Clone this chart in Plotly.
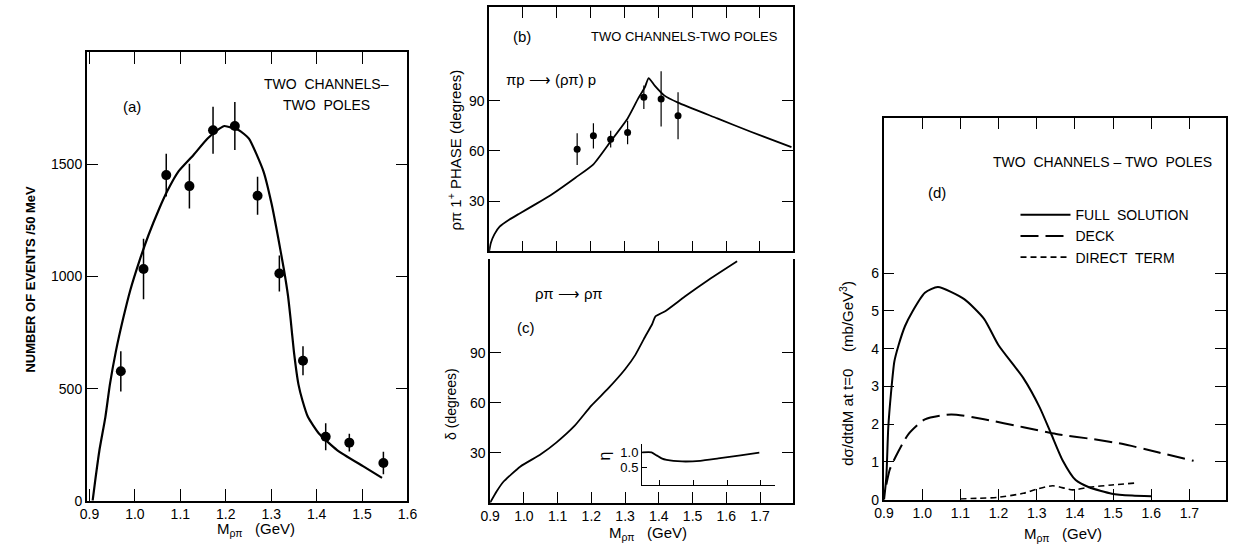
import plotly.graph_objects as go

W, H = 1239, 558

# ---------------- Panel (a): events per 50 MeV ----------------
a_pts_x = [0.969, 1.019, 1.069, 1.12, 1.172, 1.22, 1.27, 1.318, 1.37, 1.42, 1.472, 1.547]
a_pts_y = [577, 1033, 1452, 1403, 1652, 1671, 1360, 1013, 624, 285, 259, 168]
a_pts_err = [90, 135, 95, 100, 105, 107, 85, 80, 65, 60, 40, 50]

a_curve_x = [0.907, 0.912, 0.922, 0.935, 0.945, 0.958, 0.974, 0.99, 1.01, 1.03, 1.053, 1.071,
             1.096, 1.129, 1.16, 1.186, 1.197, 1.229, 1.251, 1.283, 1.301, 1.315, 1.328, 1.337,
             1.3427, 1.35, 1.36, 1.369, 1.381, 1.405, 1.445, 1.502, 1.544]
a_curve_y = [0, 80, 226, 373, 519, 665, 811, 940, 1070, 1185, 1300, 1380,
             1469, 1542, 1615, 1659, 1671, 1652, 1615, 1469, 1323, 1177, 1031, 914,
             811, 665, 519, 446, 373, 300, 226, 154, 102]

# ---------------- Panel (b): rho-pi 1+ phase ----------------
b_pts_x = [1.16, 1.208, 1.259, 1.309, 1.357, 1.408, 1.458]
b_pts_y = [61, 69, 67, 71, 92, 91, 81]
b_pts_err = [9.5, 7.5, 5, 7, 7, 16.5, 14]

b_curve_x = [0.9, 0.905, 0.915, 0.931, 0.96, 0.989, 1.04, 1.087, 1.155, 1.208, 1.259, 1.309,
             1.34, 1.36, 1.371, 1.389, 1.418, 1.458, 1.574, 1.671, 1.793]
b_curve_y = [0, 5, 10, 14.7, 19, 22.5, 28.5, 34.3, 44, 52, 65.7, 79.4,
             91.2, 98, 103.5, 99, 93, 88.8, 79.4, 71.6, 62.2]

# ---------------- Panel (c): rho-pi -> rho-pi phase shift ----------------
c_curve_x = [0.9, 0.92, 0.94, 0.989, 1.05, 1.096, 1.15, 1.2, 1.25, 1.3, 1.33, 1.36,
             1.38, 1.39, 1.42, 1.477, 1.55, 1.632]
c_curve_y = [0, 7, 12.7, 21.6, 29, 36, 46, 58.2, 68.5, 80, 88.5, 99.8,
             107, 111.7, 115, 123.6, 134, 144.8]

eta_x = [1.347, 1.375, 1.39, 1.405, 1.42, 1.466, 1.52, 1.574, 1.64, 1.696]
eta_y = [1.0, 1.0, 0.9, 0.8, 0.75, 0.7, 0.72, 0.8, 0.9, 0.99]

# ---------------- Panel (d): cross sections ----------------
d_full_x = [0.9, 0.906, 0.911, 0.918, 0.927, 0.938, 0.955, 0.973, 1.007, 1.041, 1.11, 1.162,
            1.2, 1.265, 1.308, 1.338, 1.368, 1.402, 1.437, 1.497, 1.55, 1.6]
d_full_y = [0, 0.6, 1.9, 2.8, 3.66, 4.09, 4.6, 4.96, 5.48, 5.63, 5.31, 4.79,
            4.09, 3.22, 2.44, 1.74, 1.04, 0.52, 0.33, 0.16, 0.11, 0.09]

d_deck_x = [0.906, 0.915, 0.93, 0.964, 1.007, 1.076, 1.162, 1.265, 1.351, 1.45, 1.523, 1.62, 1.711]
d_deck_y = [0.4, 0.8, 1.13, 1.74, 2.13, 2.26, 2.13, 1.92, 1.74, 1.6, 1.48, 1.25, 1.03]

d_direct_x = [1.1, 1.15, 1.196, 1.265, 1.3, 1.342, 1.394, 1.437, 1.497, 1.557]
d_direct_y = [0.02, 0.04, 0.06, 0.17, 0.28, 0.37, 0.26, 0.33, 0.39, 0.44]

mass_ticks = [0.9, 1.0, 1.1, 1.2, 1.3, 1.4, 1.5, 1.6, 1.7]


def px(x):
    return x / W


def py(y):
    return 1 - y / H


FONT = "Liberation Sans"
BLK = "black"

fig = go.Figure()

# (a)
fig.add_trace(go.Scatter(x=a_curve_x, y=a_curve_y, mode="lines",
                         line=dict(color=BLK, width=2.2, shape="spline", smoothing=0.5),
                         xaxis="x", yaxis="y", showlegend=False))
fig.add_trace(go.Scatter(x=a_pts_x, y=a_pts_y, mode="markers",
                         marker=dict(color=BLK, size=10),
                         error_y=dict(type="data", array=a_pts_err, color=BLK, thickness=1.5, width=0),
                         xaxis="x", yaxis="y", showlegend=False))
# (b)
fig.add_trace(go.Scatter(x=b_curve_x, y=b_curve_y, mode="lines",
                         line=dict(color=BLK, width=1.8, shape="spline", smoothing=0.5),
                         xaxis="x2", yaxis="y2", showlegend=False))
fig.add_trace(go.Scatter(x=b_pts_x, y=b_pts_y, mode="markers",
                         marker=dict(color=BLK, size=7),
                         error_y=dict(type="data", array=b_pts_err, color=BLK, thickness=1.2, width=0),
                         xaxis="x2", yaxis="y2", showlegend=False))
# (c)
fig.add_trace(go.Scatter(x=c_curve_x, y=c_curve_y, mode="lines",
                         line=dict(color=BLK, width=1.8, shape="spline", smoothing=0.5),
                         xaxis="x3", yaxis="y3", showlegend=False))
fig.add_trace(go.Scatter(x=eta_x, y=eta_y, mode="lines",
                         line=dict(color=BLK, width=1.8, shape="spline", smoothing=0.5),
                         xaxis="x4", yaxis="y4", showlegend=False))
# (d)
fig.add_trace(go.Scatter(x=d_full_x, y=d_full_y, mode="lines", name="FULL  SOLUTION",
                         line=dict(color=BLK, width=2, shape="spline", smoothing=0.6),
                         xaxis="x5", yaxis="y5"))
fig.add_trace(go.Scatter(x=d_deck_x, y=d_deck_y, mode="lines", name="DECK",
                         line=dict(color=BLK, width=2, dash="18px,7px", shape="spline", smoothing=0.6),
                         xaxis="x5", yaxis="y5"))
fig.add_trace(go.Scatter(x=d_direct_x, y=d_direct_y, mode="lines", name="DIRECT  TERM",
                         line=dict(color=BLK, width=1.6, dash="6px,4px", shape="spline", smoothing=0.6),
                         xaxis="x5", yaxis="y5"))

axbase = dict(showline=True, linecolor=BLK, linewidth=1.5, ticks="inside", tickcolor=BLK,
              tickwidth=1.3, showgrid=False, zeroline=False,
              tickfont=dict(family=FONT, size=14, color=BLK))

layout = dict(
    width=W, height=H, margin=dict(l=0, r=0, t=0, b=0),
    paper_bgcolor="white", plot_bgcolor="white",
    font=dict(family=FONT, color=BLK),
    xaxis=dict(axbase, domain=[px(78), px(404)], range=[0.894, 1.6], tickvals=mass_ticks[:8],
               tickformat=".1f", ticklen=12, mirror="ticks", anchor="y"),
    yaxis=dict(axbase, domain=[py(508), py(53)], range=[0, 2000], tickvals=[0, 500, 1000, 1500],
               ticklen=12, mirror="ticks", anchor="x"),
    xaxis2=dict(axbase, domain=[px(487), px(796)], range=[0.9, 1.798], tickvals=mass_ticks[1:],
                showticklabels=False, ticklen=11, mirror="ticks", anchor="y2"),
    yaxis2=dict(axbase, domain=[py(255), py(7)], range=[0, 146], tickvals=[30, 60, 90],
                ticklen=11, mirror="ticks", anchor="x2"),
    xaxis3=dict(axbase, domain=[px(488), px(796)], range=[0.9, 1.798], tickvals=mass_ticks,
                tickformat=".1f", ticklen=11, mirror=False, anchor="y3"),
    yaxis3=dict(axbase, domain=[py(510), py(263)], range=[0, 146], tickvals=[30, 60, 90],
                ticklen=11, mirror="ticks", anchor="x3"),
    xaxis4=dict(axbase, domain=[px(642.5), px(778)], range=[1.347, 1.744], tickvals=[1.4, 1.5, 1.6, 1.7],
                showticklabels=False, ticklen=5, linewidth=1.2, anchor="y4"),
    yaxis4=dict(axbase, domain=[py(492), py(450.7)], range=[-0.08, 1.27], tickvals=[0.5, 1.0],
                ticktext=["0.5", "1.0"], ticklen=5, linewidth=1.2, anchor="x4",
                tickfont=dict(family=FONT, size=13, color=BLK)),
    xaxis5=dict(axbase, domain=[px(888), px(1236)], range=[0.899, 1.796], tickvals=mass_ticks,
                tickformat=".1f", ticklen=11, mirror="ticks", anchor="y5"),
    yaxis5=dict(axbase, domain=[py(507), py(120)], range=[0, 10.1], tickvals=[0, 1, 2, 3, 4, 5, 6],
                ticklen=11, mirror="ticks", anchor="x5"),
    showlegend=True,
    legend=dict(x=px(1022), y=py(202), xanchor="left", yanchor="top", bgcolor="rgba(0,0,0,0)",
                font=dict(family=FONT, size=14, color=BLK), itemwidth=50, tracegroupgap=0),
)
fig.update_layout(**layout)


def note(x, y, text, size=13, angle=0, bold=False, xanchor="center"):
    t = f"<b>{text}</b>" if bold else text
    fig.add_annotation(x=px(x), y=py(y), xref="paper", yref="paper", text=t, showarrow=False,
                       textangle=angle, xanchor=xanchor, yanchor="middle",
                       font=dict(family=FONT, size=size, color=BLK))


# panel (a) texts
note(322, 85, "TWO  CHANNELS–", size=14)
note(322, 107, "TWO  POLES", size=14)
note(124, 108, "(a)", size=15)
note(21, 283, "NUMBER OF EVENTS /50 MeV", size=13, angle=-90, bold=True)
note(250, 537, "M<sub>ρπ</sub>   (GeV)", size=15)

# panel (b) texts
note(520, 37, "(b)", size=15)
note(686, 37, "TWO CHANNELS-TWO POLES", size=13)
note(550, 81, "πp ⟶ (ρπ) p", size=15)
note(452, 152, "ρπ 1<sup>+</sup> PHASE (degrees)", size=15, angle=-90)

# panel (c) texts
note(568, 298, "ρπ ⟶ ρπ", size=15)
note(524, 332, "(c)", size=15)
note(448, 410, "δ (degrees)", size=14, angle=-90)
note(648, 541, "M<sub>ρπ</sub>   (GeV)", size=15)
note(604, 463, "η", size=16, angle=-90)

# panel (d) texts
note(1110, 164, "TWO  CHANNELS – TWO  POLES", size=14)
note(942, 195, "(d)", size=15)
note(850, 379, "dσ/dtdM at t=0    (mb/GeV<sup>3</sup>)", size=15, angle=-90)
note(1070, 542, "M<sub>ρπ</sub>   (GeV)", size=15)

fig.write_html("out.html")
